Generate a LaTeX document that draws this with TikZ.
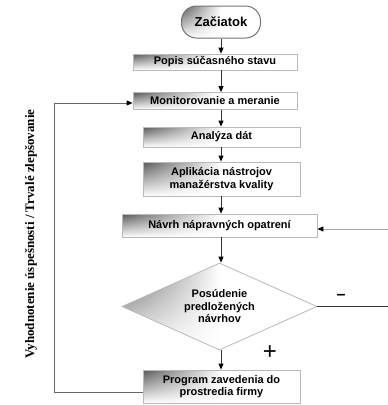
\documentclass[tikz,border=0pt]{standalone}
\usepackage{fontspec}
\setmainfont{Liberation Serif}
\setsansfont{Liberation Sans}
\usetikzlibrary{arrows.meta,shapes.geometric,calc,fadings}
\begin{document}
\begin{tikzpicture}[x=1pt,y=-1pt,
  box/.style={draw=gray!55, line width=0.8pt, fill=white, inner sep=0pt,
    path picture={\fill[left color=black!65, right color=white, middle color=white, path fading=south]
      (path picture bounding box.south west) rectangle (path picture bounding box.north east);},
    font=\sffamily\bfseries\fontsize{11}{12.5}\selectfont, align=center},
  arr/.style={-{Triangle[length=6pt,width=5pt,color=black]}, line width=0.9pt, draw=black!80}]
\useasboundingbox (0,0) rectangle (388,405);
\node[box, minimum width=79pt, minimum height=32pt, rounded corners=15pt, draw=black!55,
  line width=1pt, font=\sffamily\bfseries\fontsize{13}{15}\selectfont] (start) at (221,22) {Začiatok};
\node[box, minimum width=164pt, minimum height=16pt] (popis) at (215,62) {Popis súčasného stavu};
\node[box, minimum width=164pt, minimum height=17pt] (monit) at (215,101) {Monitorovanie a meranie};
\node[box, minimum width=157pt, minimum height=20pt] (anal) at (221.5,137) {Analýza dát};
\node[box, minimum width=157pt, minimum height=34pt] (apl) at (221.5,179) {Aplikácia nástrojov\\manažérstva kvality};
\node[box, minimum width=195pt, minimum height=23pt] (navrh) at (219.5,225.5) {Návrh nápravných opatrení};
\node[box, diamond, aspect=2.24, minimum width=195pt, minimum height=87pt] (posud) at (219.5,306.5) {Posúdenie\\predložených\\návrhov};
\node[box, minimum width=157pt, minimum height=33pt] (prog) at (221.5,386.5) {Program zavedenia do\\prostredia firmy};

\draw[arr] (start.south) -- (popis.north -| start.south);
\draw[arr] (popis.south -| start.south) -- (monit.north -| start.south);
\draw[arr] (monit.south -| start.south) -- (anal.north -| start.south);
\draw[arr] (anal.south -| start.south) -- (apl.north -| start.south);
\draw[arr] (apl.south -| start.south) -- (navrh.north -| start.south);
\draw[arr] (navrh.south -| start.south) -- (posud.north -| start.south);
\draw[arr] (posud.south -| start.south) -- (prog.north -| start.south);

\coordinate (fb1) at (54,392);
\coordinate (fb2) at (54,103);
\draw[arr, draw=black!60] (prog.west |- fb1) -- (fb1) -- (fb2) -- (monit.west |- fb2);
\coordinate (in1) at (388,229);
\draw[arr, draw=gray!70] (in1) -- (navrh.east |- in1);
\coordinate (out1) at (388,307);
\draw[line width=0.9pt, draw=black!80] (posud.east) -- (out1 |- posud.east);

\node[font=\sffamily\bfseries\fontsize{16}{16}\selectfont] (minus) at (341,297) {–};
\node[font=\sffamily\fontsize{24}{24}\selectfont] (plus) at (270,353) {+};
\node[rotate=90, font=\bfseries\fontsize{13}{14}\selectfont] (side) at (31,234) {Vyhodnotenie úspešnosti / Trvalé zlepšovanie};
\end{tikzpicture}
\end{document}
